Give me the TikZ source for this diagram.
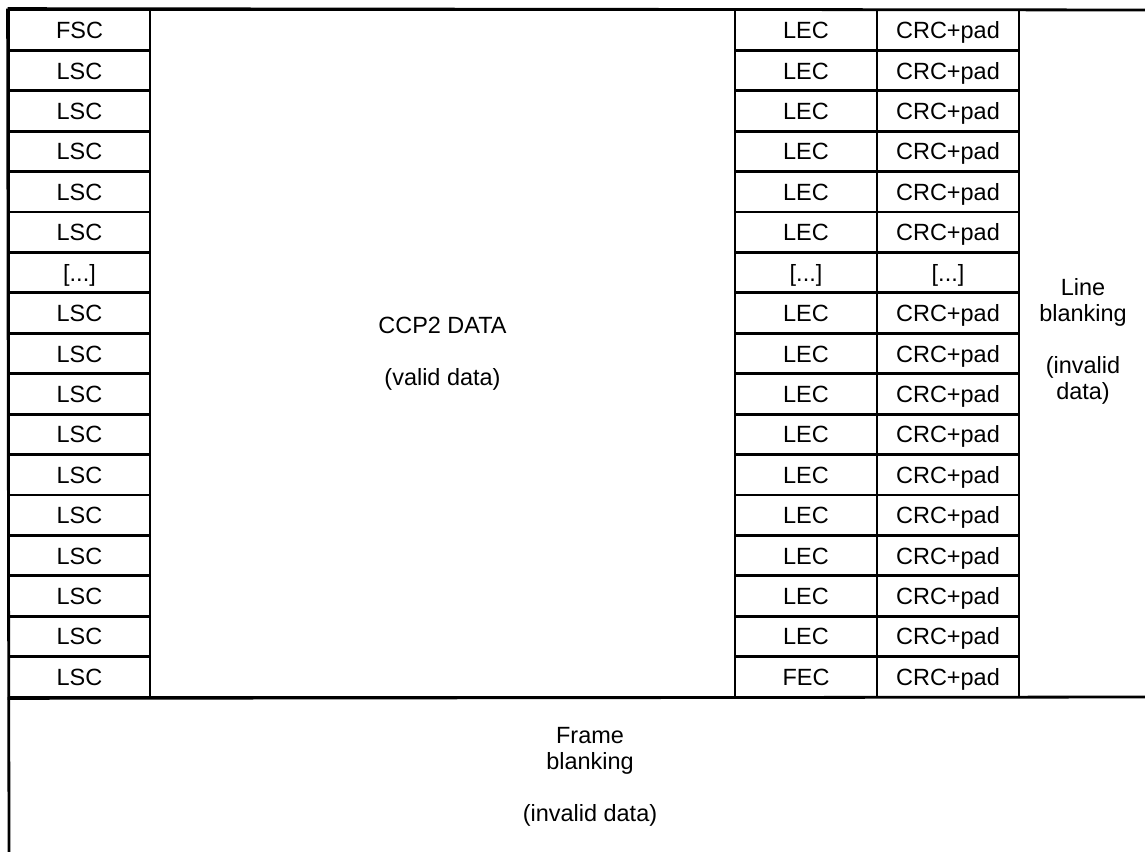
\documentclass[tikz,border=0pt]{standalone}
\usepackage{fontspec}
\setmainfont{Liberation Sans}
\newcommand{\myell}{[...]}
\begin{document}
\begin{tikzpicture}[x=0.75pt,y=-0.75pt,
  line width=2.1pt,
  cell/.style={draw, rectangle, inner sep=0pt, minimum height=30.3pt,
    text height=12.8pt, text depth=0pt, font=\fontsize{17.6}{19.5}\selectfont},
  lcell/.style={cell, minimum width=105.75pt},
  rcell/.style={cell, minimum width=106.5pt},
  lbl/.style={align=center, inner sep=0pt, font=\fontsize{17.6}{19.5}\selectfont}]
\useasboundingbox (0,0) rectangle (1145,852);
% central data region
\node[draw, rectangle, minimum width=438.75pt, minimum height=515.25pt, inner sep=0pt,
      lbl] (data) at (442.5,353.5) {CCP2 DATA\\[19.5pt](valid data)};
% left column
\foreach \t [count=\i] in {FSC,LSC,LSC,LSC,LSC,LSC,\myell,LSC,LSC,LSC,LSC,LSC,LSC,LSC,LSC,LSC,LSC}
  \node[lcell] (l\i) at (79.5,{10+40.4118*(\i-0.5)}) {\t};
% LEC column
\foreach \t [count=\i] in {LEC,LEC,LEC,LEC,LEC,LEC,\myell,LEC,LEC,LEC,LEC,LEC,LEC,LEC,LEC,LEC,FEC}
  \node[rcell] (e\i) at (806,{10+40.4118*(\i-0.5)}) {\t};
% CRC column
\foreach \t [count=\i] in {CRC+pad,CRC+pad,CRC+pad,CRC+pad,CRC+pad,CRC+pad,\myell,CRC+pad,CRC+pad,CRC+pad,CRC+pad,CRC+pad,CRC+pad,CRC+pad,CRC+pad,CRC+pad,CRC+pad}
  \node[rcell] (c\i) at (948,{10+40.4118*(\i-0.5)}) {\t};
% frame lines
\coordinate (tr) at (1145,10);
\coordinate (br) at (1145,697);
\coordinate (bl) at (9,852);
\draw (l1.north west) -- (tr);
\draw (l17.south west) -- (br);
\draw (l1.north west) -- (bl);
% labels
\node[lbl] (lineblank) at (1083,341) {Line\\blanking\\[19.5pt](invalid\\data)};
\node[lbl] (frameblank) at (590,777) {Frame\\blanking\\[19.5pt](invalid data)};
\end{tikzpicture}
\end{document}
